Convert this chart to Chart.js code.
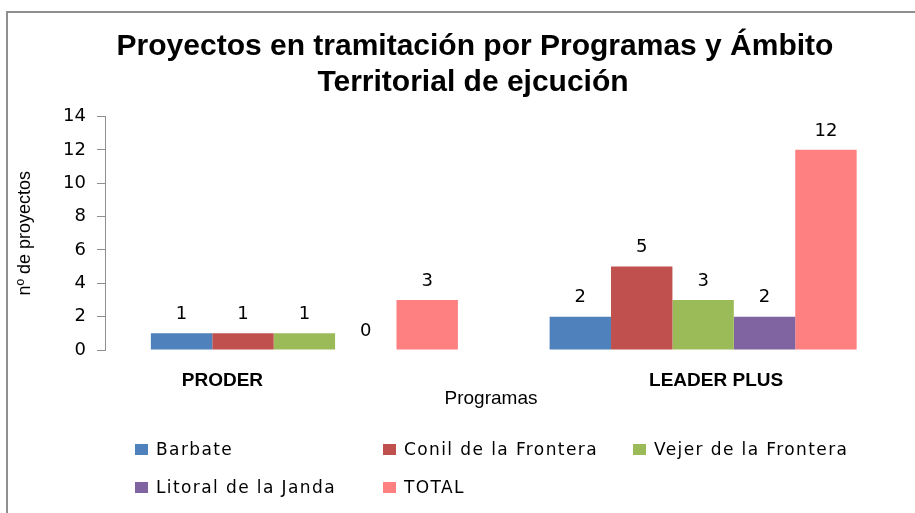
<!DOCTYPE html>
<html><head><meta charset="utf-8">
<script src="https://cdn.jsdelivr.net/npm/chart.js@4"></script>
<style>
html,body{margin:0;padding:0;background:#fff;width:915px;height:513px;overflow:hidden;}
#wrap{position:relative;width:915px;height:513px;}
#frame{position:absolute;left:6px;top:11px;right:-10px;bottom:-10px;border-top:2px solid #8f8f8f;border-left:2px solid #8f8f8f;}
canvas{position:absolute;left:0;top:0;}
#legend{position:absolute;left:0;top:0;width:915px;height:513px;pointer-events:none;font-family:'DejaVu Sans';font-size:17px;letter-spacing:1.4px;color:#000;}
.li{position:absolute;display:flex;align-items:center;white-space:nowrap;transform:translateY(-50%);}
.sw{width:13px;height:11px;margin-right:8px;flex:none;}
</style></head>
<body><div id="wrap"><div id="frame"></div><canvas id="c" width="915" height="513"></canvas><div id="legend"></div></div>
<script>
// ---- data ----
const categories = ['PRODER', 'LEADER PLUS'];
const seriesNames = ['Barbate', 'Conil de la Frontera', 'Vejer de la Frontera', 'Litoral de la Janda', 'TOTAL'];
const barbate = [1, 2];
const conil = [1, 5];
const vejer = [1, 3];
const litoral = [0, 2];
const total = [3, 12];
const yTickValues = [0, 2, 4, 6, 8, 10, 12, 14];
const titleLines = ['Proyectos en tramitación por Programas y Ámbito', 'Territorial de ejcución'];
const xAxisTitle = 'Programas';
const yAxisTitle = 'nº de proyectos';

// ---- styles ----
const colors = ['#4F81BD', '#C0504D', '#9BBB59', '#8064A2', '#FF8080'];
const seriesValues = [barbate, conil, vejer, litoral, total];
const catLabelShift = [-82, 13];

const textPlugin = {
  id: 'texts',
  afterDatasetsDraw(chart) {
    const ctx = chart.ctx;
    ctx.save();
    ctx.fillStyle = '#000';
    ctx.textAlign = 'center';
    ctx.textBaseline = 'middle';
    ctx.font = '18px "DejaVu Sans"';
    chart.data.datasets.forEach((ds, di) => {
      const meta = chart.getDatasetMeta(di);
      meta.data.forEach((bar, i) => {
        ctx.fillText(String(ds.data[i]), bar.x, bar.y - 19);
      });
    });
    ctx.restore();
  },
  afterDraw(chart) {
    const ctx = chart.ctx;
    ctx.save();
    ctx.fillStyle = '#000';
    ctx.textAlign = 'center';
    ctx.textBaseline = 'middle';
    ctx.font = 'bold 30px "Liberation Sans"';
    ctx.fillText(titleLines[0], 475, 47);
    ctx.fillText(titleLines[1], 473, 83);
    ctx.font = 'bold 19px "Liberation Sans"';
    const xs = chart.scales.x;
    categories.forEach((c, i) => {
      ctx.fillText(c, xs.getPixelForValue(i) + catLabelShift[i], 381);
    });
    ctx.font = '19px "Liberation Sans"';
    ctx.fillText(xAxisTitle, 491, 399);
    ctx.restore();
  }
};

const chart = new Chart(document.getElementById('c'), {
  type: 'bar',
  data: {
    labels: categories,
    datasets: seriesNames.map((n, i) => ({
      label: n,
      data: seriesValues[i],
      backgroundColor: colors[i],
      borderWidth: 0,
      categoryPercentage: 0.77,
      barPercentage: 1.0
    }))
  },
  options: {
    responsive: false,
    devicePixelRatio: 1,
    animation: false,
    layout: { padding: { left: 0, right: 12.5, top: 116.5, bottom: 163 } },
    plugins: { legend: { display: false }, title: { display: false }, tooltip: { enabled: false } },
    scales: {
      x: { display: false },
      y: {
        min: 0, max: 14,
        afterFit(s) { s.width = 105; },
        afterBuildTicks(s) { s.ticks = yTickValues.map(v => ({ value: v })); },
        ticks: { color: '#000', font: { family: 'DejaVu Sans', size: 18 }, padding: 11 },
        grid: { display: true, drawOnChartArea: false, drawTicks: true, tickLength: 8, color: '#8f8f8f' },
        border: { display: true, color: '#8f8f8f', width: 1 },
        title: { display: true, text: yAxisTitle, color: '#000', font: { family: 'Liberation Sans', size: 18 }, padding: { top: 14, bottom: 0 } }
      }
    }
  },
  plugins: [textPlugin]
});

// HTML legend built from datasets
const legendCols = [135, 383, 633];
const legendRows = [449, 487];
const lg = document.getElementById('legend');
chart.data.datasets.forEach((ds, i) => {
  const item = document.createElement('div');
  item.className = 'li';
  item.style.left = legendCols[i % 3] + 'px';
  item.style.top = legendRows[Math.floor(i / 3)] + 'px';
  const sw = document.createElement('span');
  sw.className = 'sw';
  sw.style.background = ds.backgroundColor;
  const tx = document.createElement('span');
  tx.textContent = ds.label;
  item.appendChild(sw);
  item.appendChild(tx);
  lg.appendChild(item);
});
</script>
</body></html>
